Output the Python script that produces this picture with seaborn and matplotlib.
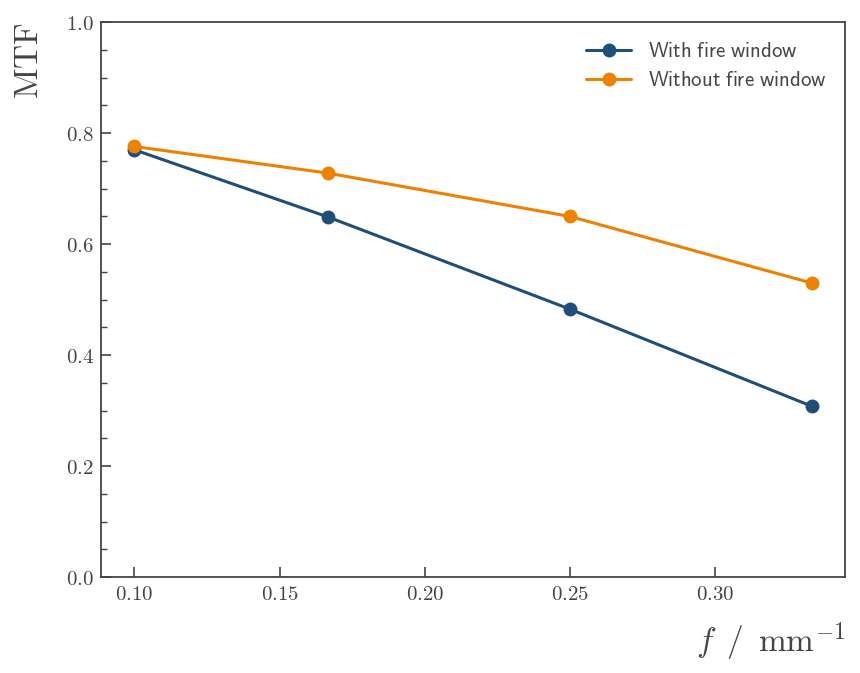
import matplotlib
matplotlib.use("Agg")
import matplotlib.pyplot as plt
import seaborn as sns
import pandas as pd
from matplotlib.ticker import MultipleLocator, FuncFormatter

freq = [0.1, 1/6, 0.25, 1/3]
mtf_with = [0.770, 0.649, 0.483, 0.308]
mtf_without = [0.776, 0.728, 0.650, 0.530]
series_names = ["With fire window", "Without fire window"]

df = pd.DataFrame({
    "f": freq * 2,
    "MTF": mtf_with + mtf_without,
    "series": [series_names[0]] * 4 + [series_names[1]] * 4,
})

sns.set_theme(style="white")
plt.rcParams["mathtext.fontset"] = "cm"
plt.rcParams["font.family"] = ["DejaVu Sans"]

fig = plt.figure(figsize=(8.6, 6.73), dpi=100)
ax = fig.add_axes([0.117, 0.1426, 0.866, 0.8244])

palette = {series_names[0]: "#1f4e79", series_names[1]: "#ef8100"}
sns.lineplot(data=df, x="f", y="MTF", hue="series", palette=palette,
             marker="o", markersize=10, markeredgewidth=0, linewidth=2.2, ax=ax)

ax.set_ylim(0, 1.0)
ax.yaxis.set_major_locator(MultipleLocator(0.2))
ax.yaxis.set_minor_locator(MultipleLocator(0.05))
ax.xaxis.set_major_locator(MultipleLocator(0.05))

fmt2 = FuncFormatter(lambda v, p: f"${v:.2f}$")
fmt1 = FuncFormatter(lambda v, p: f"${v:.1f}$")
ax.xaxis.set_major_formatter(fmt2)
ax.yaxis.set_major_formatter(fmt1)

for s in ax.spines.values():
    s.set_color("#444444")
    s.set_linewidth(1.3)

ax.tick_params(axis="both", which="both", direction="in", colors="#444444",
               labelsize=15, left=True, bottom=True, top=False, right=False)
ax.tick_params(which="major", length=7, width=1.2, pad=5)
ax.tick_params(which="minor", length=4, width=1.0)

ax.set_xlabel(r"$f\ \,/\ \,\mathrm{mm}^{-1}$", fontsize=24, color="#444444",
              loc="right", labelpad=12)
ax.set_ylabel(r"$\mathrm{MTF}$", fontsize=24, color="#444444", loc="top",
              labelpad=15)

handles, labels = ax.get_legend_handles_labels()
ax.legend(handles, [r"$\mathsf{With\ fire\ window}$", r"$\mathsf{Without\ fire\ window}$"],
          loc="upper right", frameon=False, fontsize=15, labelcolor="#444444",
          handlelength=2.2, borderaxespad=0.5, labelspacing=0.45)

fig.savefig("out.png", dpi=100)
